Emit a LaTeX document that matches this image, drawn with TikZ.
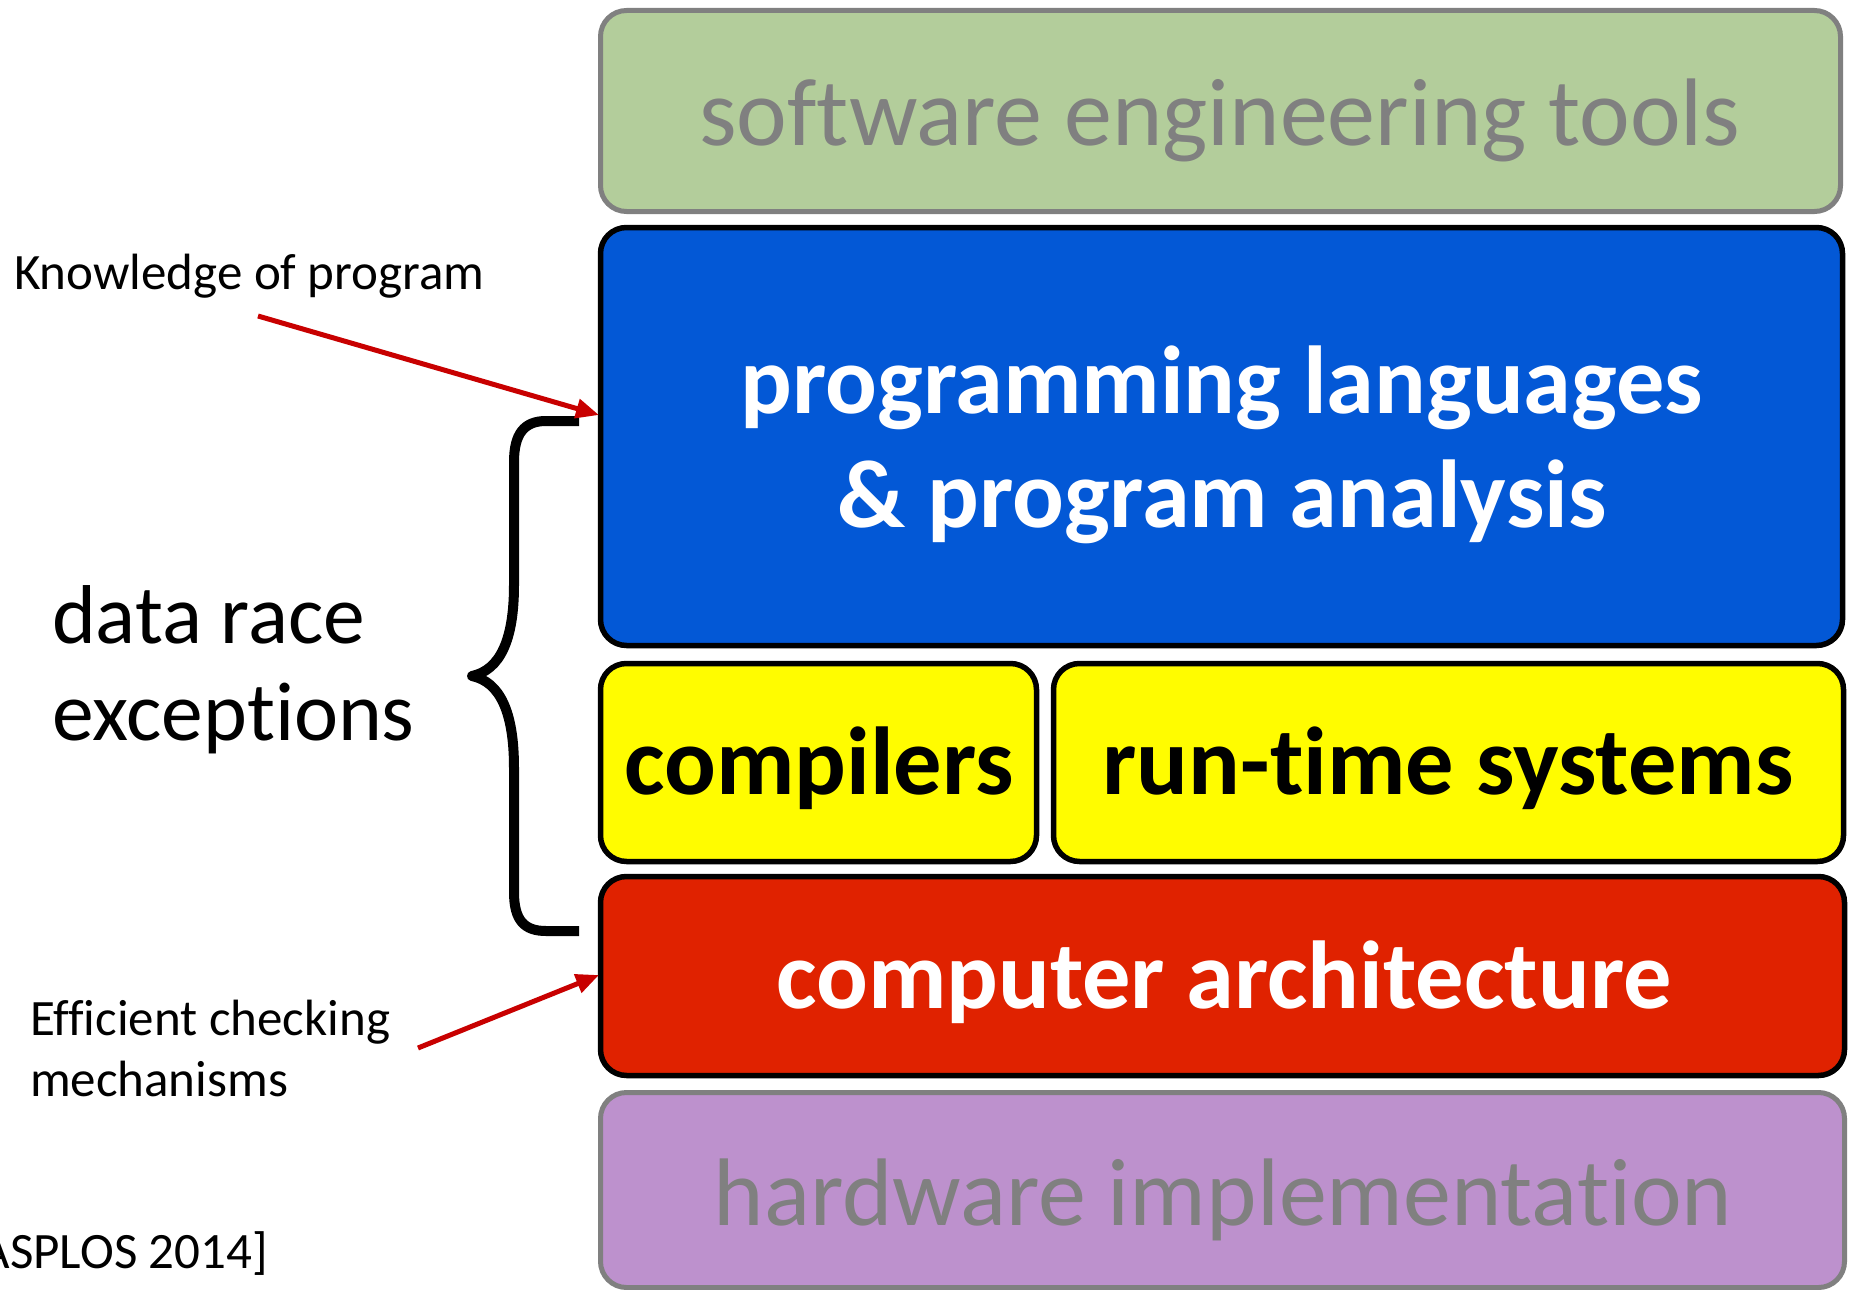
\documentclass[tikz,border=0pt]{standalone}
\usepackage{fontspec}
\setmainfont{Carlito}[Ligatures=NoCommon]
\usetikzlibrary{arrows.meta}

\definecolor{sweGreen}{RGB}{179,205,155}
\definecolor{plBlue}{RGB}{3,88,214}
\definecolor{midYellow}{RGB}{255,252,0}
\definecolor{archRed}{RGB}{224,34,0}
\definecolor{hwPurple}{RGB}{189,145,205}
\definecolor{fadeGray}{RGB}{128,128,128}
\definecolor{pointerRed}{RGB}{200,0,0}

\tikzset{
  layer/.style={draw, rounded corners=26pt, inner sep=0pt},
  faded/.style={layer, draw=fadeGray, line width=5pt},
  active/.style={layer, draw=black, line width=5.5pt},
  txt/.style={inner sep=0pt, outer sep=0pt},
  bigreg/.style={txt, font=\fontsize{96}{115}\selectfont, text=fadeGray},
  bigbold/.style={txt, font=\fontsize{96.5}{114}\selectfont\bfseries},
  side/.style={txt, font=\fontsize{51}{61}\selectfont, align=left},
  pointer/.style={draw=pointerRed, line width=5pt,
    -{Triangle[length=23pt,width=19pt]}},
}

\begin{document}
\begin{tikzpicture}[x=1pt, y=-1pt]
  \useasboundingbox (0,0) rectangle (1853,1290);
  \clip (0,0) rectangle (1853,1290);

  % the layer stack
  \node[faded, fill=sweGreen, minimum width=1240pt, minimum height=201pt]
    (swe) at (1220.5,111) {};
  \node[active, fill=plBlue, minimum width=1242pt, minimum height=418pt]
    (pl) at (1221.5,436.5) {};
  \node[active, fill=midYellow, minimum width=436pt, minimum height=198pt]
    (comp) at (818.5,762.5) {};
  \node[active, fill=midYellow, minimum width=790pt, minimum height=198pt]
    (rts) at (1448.5,762.5) {};
  \node[active, fill=archRed, minimum width=1244pt, minimum height=199pt]
    (arch) at (1222.5,976) {};
  \node[faded, fill=hwPurple, minimum width=1244pt, minimum height=195pt]
    (hw) at (1222.5,1190) {};

  % layer titles (for two-line titles the base anchor sits on the last line)
  \node[bigreg, anchor=base] (swe-t) at (1220,145) {software engineering tools};
  \node[bigbold, text=white, align=center, anchor=base] (pl-t) at (1222,527)
    {programming languages\\ \& program analysis};
  \node[bigbold, anchor=base] (comp-t) at (819,794) {compilers};
  \node[bigbold, anchor=base] (rts-t) at (1448,794) {run-time systems};
  \node[bigbold, text=white, anchor=base] (arch-t) at (1224,1008) {computer architecture};
  \node[bigreg, anchor=base] (hw-t) at (1223,1225) {hardware implementation};

  % brace spanning the middle layers
  \draw[line width=10pt, line join=round]
    (579,421) -- (546,421)
    .. controls (524,421) and (514,434) .. (514,462)
    -- (514,585)
    .. controls (514,640) and (500,670) .. (472,676)
    .. controls (500,682) and (514,712) .. (514,768)
    -- (514,892)
    .. controls (514,920) and (524,931) .. (546,931)
    -- (579,931);
  \node[txt, font=\fontsize{83.5}{97}\selectfont, align=left, anchor=base west]
    (dre) at (52,740) {data race\\ exceptions};

  % side notes with pointers
  \node[side, anchor=base west] (know) at (14,289) {Knowledge of program};
  \coordinate (know-from) at (258,316);
  \coordinate (know-to) at (599,415);
  \draw[pointer] (know-from) -- (know-to);

  \node[side, anchor=base west] (eff) at (30,1096) {Efficient checking\\ mechanisms};
  \coordinate (eff-from) at (418,1048);
  \coordinate (eff-to) at (599,975);
  \draw[pointer] (eff-from) -- (eff-to);

  \node[side, anchor=base east] (cite) at (268,1268) {[ASPLOS 2014]};
\end{tikzpicture}
\end{document}
